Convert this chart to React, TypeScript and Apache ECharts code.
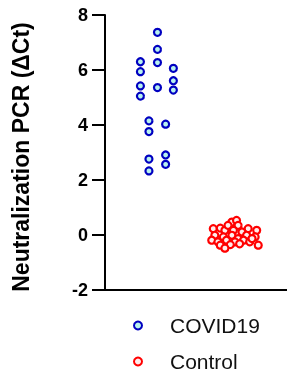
import React, { useEffect, useRef } from "react";
import * as echarts from "echarts";

const groupNames = ["COVID19", "Control"];
const groupCenters = [0, 1];

const covidValues = [7.37, 6.75, 6.3, 6.27, 6.06, 5.94, 5.61, 5.42, 5.36, 5.27, 5.05, 4.15, 4.03, 3.76, 2.91, 2.76, 2.57, 2.33];
const covidJitter = [0, 0, -0.22, 0, 0.205, -0.22, 0.205, -0.22, 0, 0.205, -0.22, -0.11, 0.105, -0.11, 0.105, -0.11, 0.105, -0.11];

const controlValues = [0.23, 0.25, 0.17, 0.47, 0.53, 0.35, 0.35, 0.23, 0.17, 0.17, 0.11, -0.01, -0.07, -0.01, -0.01, -0.07, -0.13, -0.19, -0.25, -0.19, -0.25, -0.19, -0.25, -0.37, -0.37, -0.35, -0.32, -0.13, -0.48];
const controlJitter = [-0.28, -0.19, -0.13, -0.04, 0.02, -0.09, 0.04, 0.17, 0.28, -0.02, 0.09, -0.26, -0.15, -0.04, 0.15, 0.26, 0.04, -0.3, -0.22, -0.11, 0, 0.11, 0.19, 0.3, -0.19, -0.06, 0.06, 0.22, -0.13];

const yTicks = { min: -2, max: 8, interval: 2 };

const FONT = "'Liberation Sans', Arial, sans-serif";

export default function App() {
  const ref = useRef<HTMLDivElement>(null);
  useEffect(() => {
    if (!ref.current) return;
    const chart = echarts.init(ref.current, null, { renderer: "svg" });
    const covidData = covidValues.map((v, i) => [groupCenters[0] + covidJitter[i], v]);
    const controlData = controlValues.map((v, i) => [groupCenters[1] + controlJitter[i], v]);
    chart.setOption({
      animation: false,
      grid: { left: 105, right: 0, top: 15, bottom: 89, containLabel: false },
      xAxis: {
        type: "value",
        min: -0.677,
        max: 1.671,
        axisLine: { show: true, onZero: false, lineStyle: { color: "#000", width: 2 } },
        axisTick: { show: false },
        axisLabel: { show: false },
        splitLine: { show: false },
      },
      yAxis: {
        type: "value",
        min: yTicks.min,
        max: yTicks.max,
        interval: yTicks.interval,
        name: "Neutralization PCR (\u0394Ct)",
        nameLocation: "middle",
        nameGap: 73,
        nameTextStyle: { fontFamily: FONT, fontWeight: "bold", fontSize: 23, color: "#000", padding: [0, 9, 0, 0] },
        axisLine: { show: true, onZero: false, lineStyle: { color: "#000", width: 2 } },
        axisTick: { show: true, length: 13, lineStyle: { color: "#000", width: 2 } },
        axisLabel: { fontFamily: FONT, fontWeight: "bold", fontSize: 18, color: "#000", margin: 17 },
        splitLine: { show: false },
      },
      legend: {
        orient: "vertical",
        left: 133,
        top: 315,
        padding: 0,
        itemWidth: 54,
        itemHeight: 8,
        itemGap: 15,
        icon: "circle",
        textStyle: { fontFamily: FONT, fontSize: 21, color: "#111" },
        data: groupNames,
      },
      series: [
        {
          name: groupNames[0],
          type: "scatter",
          symbol: "circle",
          symbolSize: 7,
          itemStyle: { color: "#b8f2ee", borderColor: "#0000c0", borderWidth: 2.2, opacity: 1 },
          data: covidData,
        },
        {
          name: groupNames[1],
          type: "scatter",
          symbol: "circle",
          symbolSize: 7,
          itemStyle: { color: "#ffecec", borderColor: "#ff0000", borderWidth: 2.2, opacity: 1 },
          data: controlData,
        },
      ],
    });
    return () => chart.dispose();
  }, []);
  return <div ref={ref} style={{ position: "fixed", left: 0, top: 0, width: 287, height: 379 }} />;
}
